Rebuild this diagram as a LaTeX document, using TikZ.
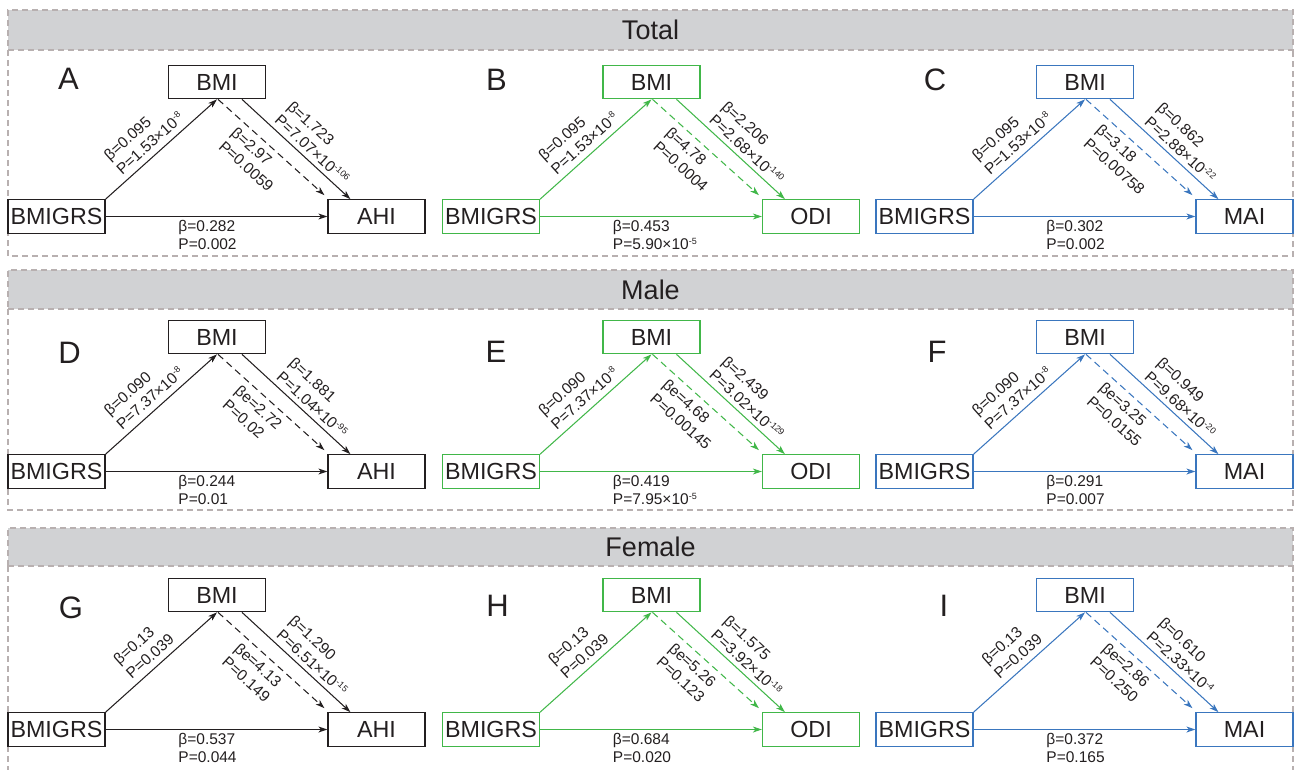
\documentclass[tikz,border=0pt]{standalone}
\usepackage{fontspec}
\setmainfont{Liberation Sans}
\usetikzlibrary{arrows.meta}

\definecolor{ink}{RGB}{35,31,32}
\definecolor{pathgreen}{RGB}{65,183,73}
\definecolor{pathblue}{RGB}{58,118,190}
\definecolor{bandgray}{RGB}{209,210,212}
\definecolor{framegray}{RGB}{184,176,176}

% small raised exponent
\newcommand\expo[1]{\raisebox{5.5pt}{\fontsize{9}{9}\selectfont #1}}

\tikzset{
  varbox/.style={draw, line width=1.2pt, minimum width=97pt, minimum height=33.5pt,
    inner sep=0pt, text=ink, font=\fontsize{23.3}{26}\selectfont},
  link/.style={line width=1.05pt, -{Stealth[length=9pt,width=6pt,inset=2.5pt]}},
  coef/.style={text=ink, font=\fontsize{15.5}{18.5}\selectfont, align=left, inner sep=0pt},
  paneltag/.style={text=ink, font=\fontsize{31}{31}\selectfont, inner sep=0pt},
  titleband/.style={fill=bandgray, draw=framegray, line width=1.3pt,
    dash pattern=on 6pt off 4pt, minimum width=1285pt, inner sep=0pt,
    text=ink, font=\fontsize{27}{27}\selectfont},
  panelframe/.style={draw=framegray, line width=1.3pt, dash pattern=on 6pt off 4pt},
}

% one mediation triangle:
% #1 shift, #2 colour, #3 letter, #4 letter position, #5 outcome,
% #6 exposure->BMI, #7 BMI->outcome, #8 mediated effect, #9 direct effect
\newcommand\mediation[9]{%
  \begin{scope}[shift={(#1)}]
    \node[paneltag] (tag#3) at (#4) {#3};
    \node[varbox, draw=#2] (x#3) at (56.5,134.5) {BMIGRS};
    \node[varbox, draw=#2] (m#3) at (217,0) {BMI};
    \node[varbox, draw=#2] (y#3) at (376.5,134.5) {#5};
    \coordinate (dm#3) at ([xshift=1pt]m#3.south);
    \coordinate (dy#3) at ([shift={(-3pt,4pt)}]y#3.north west);
    \draw[link, #2] (x#3.north east) --
      node[coef, sloped, above=6pt, pos=0.47] {#6} (m#3.south);
    \draw[link, #2] ([xshift=25pt]m#3.south) --
      node[coef, sloped, above=4.5pt, pos=0.58] {#7} ([xshift=23pt]y#3.north west);
    \draw[link, #2, dash pattern=on 7pt off 4.5pt] (dm#3) --
      node[coef, sloped, below=6pt, pos=0.46] {#8} (dy#3);
    \draw[link, #2] (x#3.east) --
      node[coef, pos=0.326, anchor=north west, yshift=-3pt] {#9} (y#3.west);
  \end{scope}}

\begin{document}
\begin{tikzpicture}[x=1pt, y=-1pt]
\useasboundingbox (0,0) rectangle (1297,770);

% section bands and frames
\node[titleband, minimum height=40pt] (total) at (650.5,30) {Total};
\draw[panelframe] (8,50) -- (8,256) -- (1293,256) -- (1293,50);
\node[titleband, minimum height=39pt] (male) at (650.5,289.5) {Male};
\draw[panelframe] (8,309) -- (8,510) -- (1293,510) -- (1293,309);
\node[titleband, minimum height=38pt] (female) at (650.5,547) {Female};
\draw[panelframe] (8,566) -- (8,772);
\draw[panelframe] (1293,566) -- (1293,772);

% Total
\mediation{0,82}{ink}{A}{68.5,-3}{AHI}
  {β=0.095\\P=1.53×10\expo{-8}}{β=1.723\\P=7.07×10\expo{-106}}
  {β=2.97\\P=0.0059}{β=0.282\\P=0.002}
\mediation{434.5,82}{pathgreen}{B}{62,-2}{ODI}
  {β=0.095\\P=1.53×10\expo{-8}}{β=2.206\\P=2.68×10\expo{-140}}
  {β=4.78\\P=0.0004}{β=0.453\\P=5.90×10\expo{-5}}
\mediation{868,82}{pathblue}{C}{67,-2}{MAI}
  {β=0.095\\P=1.53×10\expo{-8}}{β=0.862\\P=2.88×10\expo{-22}}
  {β=3.18\\P=0.00758}{β=0.302\\P=0.002}

% Male
\mediation{0,337}{ink}{D}{69.5,16}{AHI}
  {β=0.090\\P=7.37×10\expo{-8}}{β=1.881\\P=1.04×10\expo{-95}}
  {βe=2.72\\P=0.02}{β=0.244\\P=0.01}
\mediation{434.5,337}{pathgreen}{E}{61.5,15}{ODI}
  {β=0.090\\P=7.37×10\expo{-8}}{β=2.439\\P=3.02×10\expo{-129}}
  {βe=4.68\\P=0.00145}{β=0.419\\P=7.95×10\expo{-5}}
\mediation{868,337}{pathblue}{F}{69,15}{MAI}
  {β=0.090\\P=7.37×10\expo{-8}}{β=0.949\\P=9.68×10\expo{-20}}
  {βe=3.25\\P=0.0155}{β=0.291\\P=0.007}

% Female
\mediation{0,595}{ink}{G}{71,13}{AHI}
  {β=0.13\\P=0.039}{β=1.290\\P=6.51×10\expo{-15}}
  {βe=4.13\\P=0.149}{β=0.537\\P=0.044}
\mediation{434.5,595}{pathgreen}{H}{63,11}{ODI}
  {β=0.13\\P=0.039}{β=1.575\\P=3.92×10\expo{-18}}
  {βe=5.26\\P=0.123}{β=0.684\\P=0.020}
\mediation{868,595}{pathblue}{I}{76,11}{MAI}
  {β=0.13\\P=0.039}{β=0.610\\P=2.33×10\expo{-4}}
  {βe=2.86\\P=0.250}{β=0.372\\P=0.165}
\end{tikzpicture}
\end{document}
